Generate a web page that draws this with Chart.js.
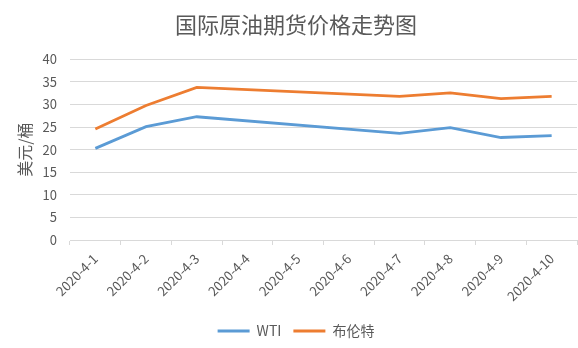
<!DOCTYPE html>
<html lang="zh">
<head>
  <meta charset="UTF-8" />
  <title>国际原油期货价格走势图</title>
  <script src="https://cdn.jsdelivr.net/npm/chart.js"></script>
  <style>
    body { margin: 0; background: #fff; }
    .wrap { width: 578px; height: 348px; }
  </style>
</head>
<body>
  <div class="wrap"><canvas id="oilChart"></canvas></div>
  <script>
    const dates = ['2020-4-1', '2020-4-2', '2020-4-3', '2020-4-4', '2020-4-5',
                   '2020-4-6', '2020-4-7', '2020-4-8', '2020-4-9', '2020-4-10'];
    // 周末无数据，用 null 并连线
    const wti   = [20.3, 25.1, 27.3, null, null, null, 23.6, 24.9, 22.7, 23.1];
    const brent = [24.6, 29.8, 33.8, null, null, null, 31.8, 32.6, 31.3, 31.8];
    const yTicks = [0, 5, 10, 15, 20, 25, 30, 35, 40];

    const grey = '#595959';
    const fontFamily = "'Noto Sans CJK SC', 'Noto Sans', sans-serif";

    const ctx = document.getElementById('oilChart').getContext('2d');
    new Chart(ctx, {
      type: 'line',
      data: {
        labels: dates,
        datasets: [
          {
            label: 'WTI',
            data: wti,
            borderColor: '#5B9BD5',
            backgroundColor: '#5B9BD5',
            borderWidth: 2.8,
            pointRadius: 0,
            spanGaps: true,
            tension: 0
          },
          {
            label: '布伦特',
            data: brent,
            borderColor: '#ED7D31',
            backgroundColor: '#ED7D31',
            borderWidth: 2.8,
            pointRadius: 0,
            spanGaps: true,
            tension: 0
          }
        ]
      },
      options: {
        responsive: true,
        maintainAspectRatio: false,
        animation: false,
        layout: { padding: { left: 15, right: 1, top: 0, bottom: 0 } },
        plugins: {
          title: {
            display: true,
            text: '国际原油期货价格走势图',
            color: grey,
            font: { family: fontFamily, size: 22, weight: 'normal' },
            padding: { top: 11, bottom: 22 }
          },
          legend: {
            position: 'bottom',
            labels: {
              color: grey,
              font: { family: fontFamily, size: 14 },
              boxWidth: 32,
              boxHeight: 3,
              padding: 12,
              generateLabels: chart =>
                Chart.defaults.plugins.legend.labels.generateLabels(chart)
                  .map(item => Object.assign(item, { lineWidth: 0 }))
            }
          },
          tooltip: { enabled: false }
        },
        scales: {
          x: {
            offset: true,
            grid: {
              offset: true,
              drawOnChartArea: false,
              drawTicks: true,
              tickLength: 5,
              color: '#d9d9d9'
            },
            border: { color: '#d9d9d9' },
            ticks: {
              color: grey,
              font: { family: fontFamily, size: 13 },
              maxRotation: 45,
              minRotation: 45,
              autoSkip: false,
              padding: 6
            },
            afterFit: scale => { scale.height = 72; }
          },
          y: {
            min: 0,
            max: 40,
            afterBuildTicks: scale => { scale.ticks = yTicks.map(v => ({ value: v })); },
            grid: { color: '#d9d9d9', drawTicks: false },
            border: { display: false },
            ticks: {
              color: grey,
              font: { family: fontFamily, size: 13 },
              padding: 13
            },
            title: {
              display: true,
              text: '美元/桶',
              color: grey,
              font: { family: fontFamily, size: 16 },
              padding: { top: 0, bottom: 0 }
            },
            afterFit: scale => { scale.width = 55; }
          }
        }
      }
    });
  </script>
</body>
</html>
